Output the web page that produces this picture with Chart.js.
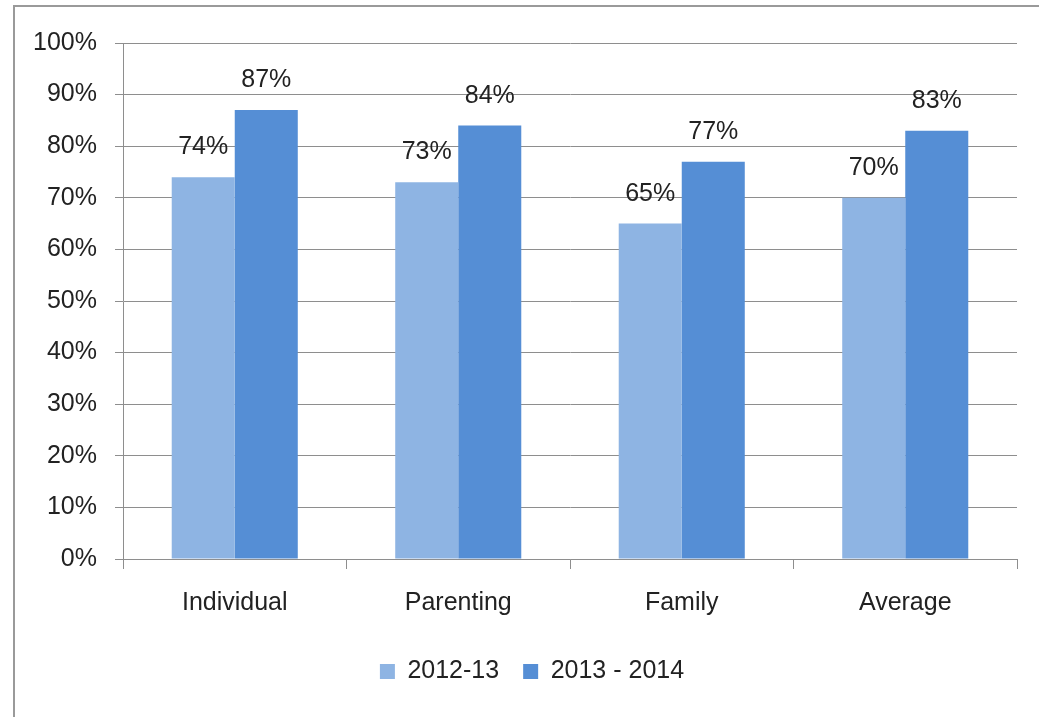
<!DOCTYPE html>
<html>
<head>
<meta charset="utf-8">
<script src="https://cdn.jsdelivr.net/npm/chart.js@4.4.1/dist/chart.umd.min.js"></script>
<style>
  html, body { margin: 0; padding: 0; background: #ffffff; }
  #wrap { position: relative; width: 1039px; height: 717px; overflow: hidden; }
  #frame { position: absolute; left: 13px; top: 5px; width: 1100px; height: 800px;
           border-left: 2px solid #9a9a9a; border-top: 2px solid #9a9a9a; }
  #c { position: absolute; left: 0; top: 0; }
</style>
</head>
<body>
<div id="wrap">
  <div id="frame"></div>
  <canvas id="c" width="1039" height="717"></canvas>
</div>
<script>
const categories = ["Individual", "Parenting", "Family", "Average"];
const series2012 = [74, 73, 65, 70];
const series2013 = [87, 84, 77, 83];
const seriesNames = ["2012-13", "2013 - 2014"];
const yTicks = [0, 10, 20, 30, 40, 50, 60, 70, 80, 90, 100];

const FONT = "'Liberation Sans', Arial, sans-serif";
const GRID = "#8e8e8e";

const dataLabels = {
  id: "dataLabels",
  afterDatasetsDraw(chart) {
    const ctx = chart.ctx;
    ctx.save();
    ctx.font = "25px " + FONT;
    ctx.fillStyle = "#222222";
    ctx.textAlign = "center";
    ctx.textBaseline = "alphabetic";
    chart.data.datasets.forEach((ds, di) => {
      const meta = chart.getDatasetMeta(di);
      meta.data.forEach((el, i) => {
        ctx.fillText(ds.data[i] + "%", el.x, el.y - 23);
      });
    });
    ctx.restore();
  }
};

new Chart(document.getElementById("c"), {
  type: "bar",
  data: {
    labels: categories,
    datasets: [
      { label: seriesNames[0], data: series2012, backgroundColor: "#8eb4e3",
        categoryPercentage: 0.564, barPercentage: 1.0 },
      { label: seriesNames[1], data: series2013, backgroundColor: "#558ed5",
        categoryPercentage: 0.564, barPercentage: 1.0 }
    ]
  },
  options: {
    responsive: false,
    animation: false,
    layout: { padding: { left: 30, right: 5, top: 43, bottom: 23 } },
    plugins: {
      tooltip: { enabled: false },
      legend: {
        position: "bottom",
        labels: {
          font: { family: FONT, size: 25 },
          color: "#222222",
          boxWidth: 15,
          boxHeight: 15,
          padding: 24
        }
      }
    },
    scales: {
      x: {
        offset: true,
        afterFit(scale) { scale.height = 76; },
        grid: { display: true, drawOnChartArea: false, drawTicks: true, tickLength: 10,
                color: GRID, offset: true },
        border: { display: true, color: GRID, width: 1 },
        ticks: { font: { family: FONT, size: 25 }, color: "#222222", padding: 19 }
      },
      y: {
        min: 0, max: 100,
        afterFit(scale) { scale.width = 93; },
        afterBuildTicks(scale) { scale.ticks = yTicks.map(v => ({ value: v })); },
        grid: { color: GRID, lineWidth: 1, tickLength: 8, drawTicks: true },
        border: { display: true, color: GRID, width: 1 },
        ticks: { font: { family: FONT, size: 25 }, color: "#222222", padding: 18,
                 callback: v => v + "%" }
      },
      ySpacer: {
        position: "right",
        display: true,
        afterFit(scale) { scale.width = 17; },
        grid: { display: false },
        border: { display: false },
        ticks: { display: false }
      }
    }
  },
  plugins: [dataLabels]
});
</script>
</body>
</html>
